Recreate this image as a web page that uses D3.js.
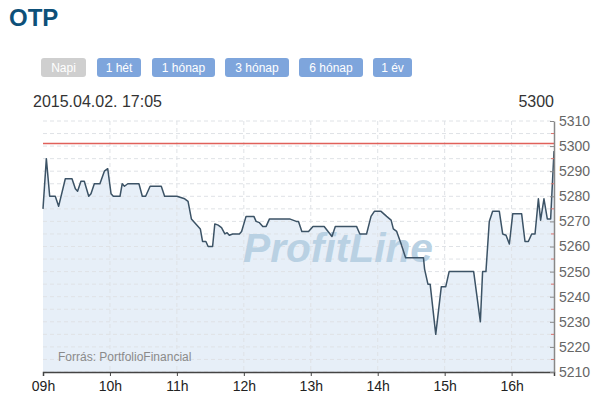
<!DOCTYPE html>
<html>
<head>
<meta charset="utf-8">
<script src="https://cdn.jsdelivr.net/npm/d3@7"></script>
<style>
  body { margin: 0; background: #fff; }
</style>
</head>
<body>
<div id="chart"></div>
<script>
// price ticks of the day (time, price)
var times = ["09:00","09:03","09:06","09:11","09:14","09:20","09:26","09:29","09:31","09:34",
  "09:37","09:41","09:43","09:46","09:51","09:55","09:58","10:01","10:03","10:09",
  "10:11","10:13","10:16","10:26","10:29","10:32","10:36","10:46","10:49","11:00",
  "11:07","11:10","11:13","11:17","11:21","11:23","11:26","11:28","11:32","11:34",
  "11:37","11:40","11:43","11:45","11:47","11:50","11:56","11:58","12:02","12:09",
  "12:11","12:14","12:17","12:20","12:23","12:41","12:47","12:49","12:52","12:58",
  "13:02","13:12","13:19","13:22","13:41","13:44","13:50","13:54","13:57","14:03",
  "14:08","14:12","14:14","14:17","14:21","14:25","14:41","14:42","14:45","14:47",
  "14:52","14:57","15:01","15:04","15:26","15:32","15:34","15:37","15:40","15:43",
  "15:49","15:52","15:55","15:58","16:01","16:09","16:12","16:15","16:18","16:21",
  "16:24","16:26","16:29","16:32","16:35","16:38"];
var prices = [5275,5295,5280,5280,5276,5287,5287,5283,5282,5286,
  5286,5280,5281,5285,5285,5290,5291,5281,5280,5280,
  5285,5284,5285,5285,5280,5280,5284,5284,5280,5280,
  5279,5278,5271,5269,5267,5262,5262,5260,5260,5269,
  5268.5,5267.5,5265,5265.5,5264.5,5265,5265,5266,5272,5272,
  5270,5269.5,5268,5268,5271,5271,5270,5270,5266,5266,
  5268,5268,5264,5268,5268,5265,5265,5272,5274,5274,
  5272,5270.5,5267,5266,5261,5255.5,5255.5,5251,5245,5245,
  5225,5244,5244,5250,5250,5230,5250,5250,5270,5274,
  5274,5265,5264.5,5261,5273,5273,5262,5262,5265,5265,
  5279,5270.5,5279,5271,5271,5298];

var refPrice = 5301;          // red reference line
var lastPrice = "5300";
var stamp = "2015.04.02. 17:05";
var hourTicks = ["09:00","10:00","11:00","12:00","13:00","14:00","15:00","16:00"];
var priceTicks = [5210,5220,5230,5240,5250,5260,5270,5280,5290,5300,5310];
var minorTicks = [5215,5225,5235,5245,5255,5265,5275,5285,5295,5305];
var buttons = ["Napi","1 hét","1 hónap","3 hónap","6 hónap","1 év"];

var width = 606, height = 405;
var parse = d3.timeParse("%H:%M");
var data = times.map(function(t, i) { return { t: parse(t), v: prices[i] }; });

var svg = d3.select("#chart").append("svg")
  .attr("width", width)
  .attr("height", height)
  .style("font-family", "Arial, 'Liberation Sans', sans-serif");

// title
svg.append("text")
  .attr("x", 9).attr("y", 26)
  .attr("font-size", "24px").attr("font-weight", "bold")
  .attr("fill", "#0d5079")
  .text("OTP");

// range buttons
var btnX = [41, 97, 152, 225, 299, 373];
var btnW = [45, 44, 63, 64, 64, 39];
var btn = svg.selectAll("g.btn")
  .data(buttons)
  .enter()
  .append("g")
  .attr("class", "btn")
  .attr("transform", function(d, i) { return "translate(" + btnX[i] + ",58)"; });
btn.append("rect")
  .attr("width", function(d, i) { return btnW[i]; })
  .attr("height", 19)
  .attr("rx", 3)
  .attr("fill", function(d, i) { return i === 0 ? "#cfcfcf" : "#7ea5dc"; });
btn.append("text")
  .attr("x", function(d, i) { return btnW[i] / 2; })
  .attr("y", 14)
  .attr("text-anchor", "middle")
  .attr("font-size", "12px")
  .attr("fill", "#fff")
  .text(function(d) { return d; });

svg.append("text")
  .attr("x", 33).attr("y", 107)
  .attr("font-size", "16px").attr("fill", "#333")
  .text(stamp);
svg.append("text")
  .attr("x", 554).attr("y", 107)
  .attr("text-anchor", "end")
  .attr("font-size", "16px").attr("fill", "#333")
  .text(lastPrice);

// scales
var plotL = 43, plotR = 554, plotT = 121, plotB = 372;
var x = d3.scaleTime()
  .domain([parse("09:00"), parse("16:38")])
  .range([plotL, plotR]);
var y = d3.scaleLinear()
  .domain([5210, 5310])
  .range([plotB, plotT]);

// area fill
var area = d3.area()
  .x(function(d) { return x(d.t); })
  .y0(plotB)
  .y1(function(d) { return y(d.v); });
svg.append("path")
  .datum(data)
  .attr("d", area)
  .attr("fill", "#e7eff8");

// grid
var gridY = priceTicks.concat(minorTicks);
svg.selectAll("line.gy")
  .data(gridY)
  .enter()
  .append("line")
  .attr("class", "gy")
  .attr("x1", plotL).attr("x2", plotR)
  .attr("y1", function(d) { return y(d); })
  .attr("y2", function(d) { return y(d); })
  .attr("stroke", "#dfe2e6")
  .attr("stroke-width", 1)
  .attr("stroke-dasharray", "4,3");
svg.selectAll("line.gx")
  .data(hourTicks.slice(1))
  .enter()
  .append("line")
  .attr("class", "gx")
  .attr("x1", function(d) { return x(parse(d)); })
  .attr("x2", function(d) { return x(parse(d)); })
  .attr("y1", plotT).attr("y2", plotB)
  .attr("stroke", "#dfe2e6")
  .attr("stroke-dasharray", "4,3");

// watermark
svg.append("text")
  .attr("x", 338).attr("y", 262)
  .attr("text-anchor", "middle")
  .attr("font-size", "40px")
  .attr("font-weight", "bold")
  .attr("font-style", "italic")
  .attr("fill", "#b9d1e3")
  .attr("textLength", 190)
  .attr("lengthAdjust", "spacingAndGlyphs")
  .text("ProfitLine");

svg.append("text")
  .attr("x", 58).attr("y", 361)
  .attr("font-size", "12px").attr("fill", "#8a8a8a")
  .text("Forrás: PortfolioFinancial");

// reference line
svg.append("line")
  .attr("x1", plotL).attr("x2", plotR)
  .attr("y1", y(refPrice)).attr("y2", y(refPrice))
  .attr("stroke", "#e0605a")
  .attr("stroke-width", 1.5);

// price line
var line = d3.line()
  .x(function(d) { return x(d.t); })
  .y(function(d) { return y(d.v); });
svg.append("path")
  .datum(data)
  .attr("d", line)
  .attr("fill", "none")
  .attr("stroke", "#3c5366")
  .attr("stroke-width", 1.5)
  .attr("stroke-linejoin", "round");

// x axis
var xAxis = svg.append("g")
  .attr("transform", "translate(0," + plotB + ")")
  .call(d3.axisBottom(x)
    .tickValues(hourTicks.map(parse))
    .tickSize(4)
    .tickFormat(d3.timeFormat("%Hh")));
xAxis.select(".domain").attr("stroke", "#444").attr("stroke-width", 1.5);
xAxis.selectAll(".tick line").attr("stroke", "#444");
xAxis.selectAll("text")
  .attr("font-size", "14px")
  .attr("font-family", "Arial, 'Liberation Sans', sans-serif")
  .attr("fill", "#222")
  .attr("dy", "0.85em");

// y axis on the right
var yAxis = svg.append("g")
  .attr("transform", "translate(" + plotR + ",0)")
  .call(d3.axisRight(y)
    .tickValues(priceTicks)
    .tickSizeInner(-4)
    .tickSizeOuter(0)
    .tickPadding(5)
    .tickFormat(d3.format("d")));
yAxis.select(".domain").attr("stroke", "#888").attr("stroke-width", 1.5);
yAxis.selectAll(".tick line").attr("stroke", "#888");
yAxis.selectAll("text")
  .attr("font-size", "14px")
  .attr("font-family", "Arial, 'Liberation Sans', sans-serif")
  .attr("fill", "#666");

svg.selectAll("line.minor")
  .data(minorTicks)
  .enter()
  .append("line")
  .attr("class", "minor")
  .attr("x1", plotR - 3).attr("x2", plotR)
  .attr("y1", function(d) { return y(d); })
  .attr("y2", function(d) { return y(d); })
  .attr("stroke", "#d9716b");
</script>
</body>
</html>
